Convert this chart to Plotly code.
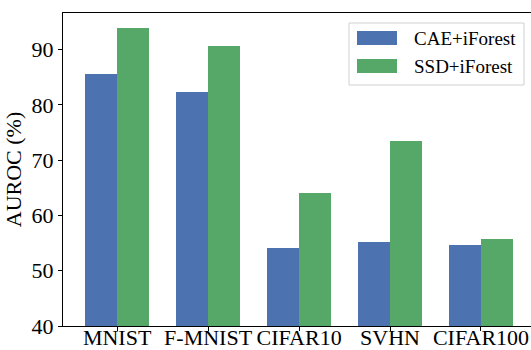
import plotly.graph_objects as go

categories = ["MNIST", "F-MNIST", "CIFAR10", "SVHN", "CIFAR100"]
cae_iforest = [85.5, 82.3, 54.1, 55.2, 54.6]
ssd_iforest = [93.9, 90.6, 64.0, 73.4, 55.7]
series_names = ["CAE+iForest", "SSD+iForest"]
colors = ["#4C72B0", "#55A868"]
y_ticks = [40, 50, 60, 70, 80, 90]

x = list(range(len(categories)))
w = 0.35

fig = go.Figure()
for k, vals in enumerate([cae_iforest, ssd_iforest]):
    off = -w / 2 if k == 0 else w / 2
    fig.add_trace(go.Bar(x=[i + off for i in x], y=vals, width=w, name=series_names[k],
                         marker=dict(color=colors[k], line=dict(width=0)), showlegend=False))

# Plot area in pixels
L, T, B, W, H = 63, 13, 24, 531, 350
pw, ph = W - L, H - T - B


def px(xp):
    return (xp - L) / pw


def py(yp):
    return (H - B - yp) / ph


shapes = []
annotations = []
# legend frame
shapes.append(dict(type="rect", xref="paper", yref="paper",
                   x0=px(349), x1=px(524), y0=py(85), y1=py(23),
                   line=dict(color="#d0d0d0", width=1), fillcolor="rgba(255,255,255,0.8)", layer="above"))
for k, name in enumerate(series_names):
    yc = 38 + 28 * k
    shapes.append(dict(type="rect", xref="paper", yref="paper",
                       x0=px(357), x1=px(397), y0=py(yc + 7), y1=py(yc - 7),
                       line=dict(width=0), fillcolor=colors[k], layer="above"))
    annotations.append(dict(xref="paper", yref="paper", x=px(412), y=py(yc),
                            xanchor="left", yanchor="middle", text=name, showarrow=False,
                            font=dict(size=19, family="Liberation Serif", color="black")))

font_family = "Liberation Serif"
fig.update_layout(
    width=W, height=H,
    margin=dict(l=L, r=0, t=T, b=B, autoexpand=False),
    plot_bgcolor="white", paper_bgcolor="white",
    font=dict(family=font_family, size=22, color="black"),
    barmode="overlay",
    bargap=0,
    shapes=shapes,
    annotations=annotations,
    xaxis=dict(range=[-0.595, 4.55], tickmode="array", tickvals=x, ticktext=categories,
               showline=True, linecolor="black", linewidth=1, mirror=True,
               ticks="outside", ticklen=4, tickcolor="black", showgrid=False, zeroline=False,
               tickfont=dict(size=22), automargin=False, ticklabelstandoff=-12),
    yaxis=dict(range=[40, 96.6], tickvals=y_ticks,
               showline=True, linecolor="black", linewidth=1, mirror=True,
               ticks="outside", ticklen=4, tickcolor="black", showgrid=False, zeroline=False,
               title=dict(text="AUROC (%)", font=dict(size=22), standoff=3),
               tickfont=dict(size=22), automargin=False),
)

fig.write_html("out.html", config={"displayModeBar": False},
               post_script="document.body.style.margin='0';")
